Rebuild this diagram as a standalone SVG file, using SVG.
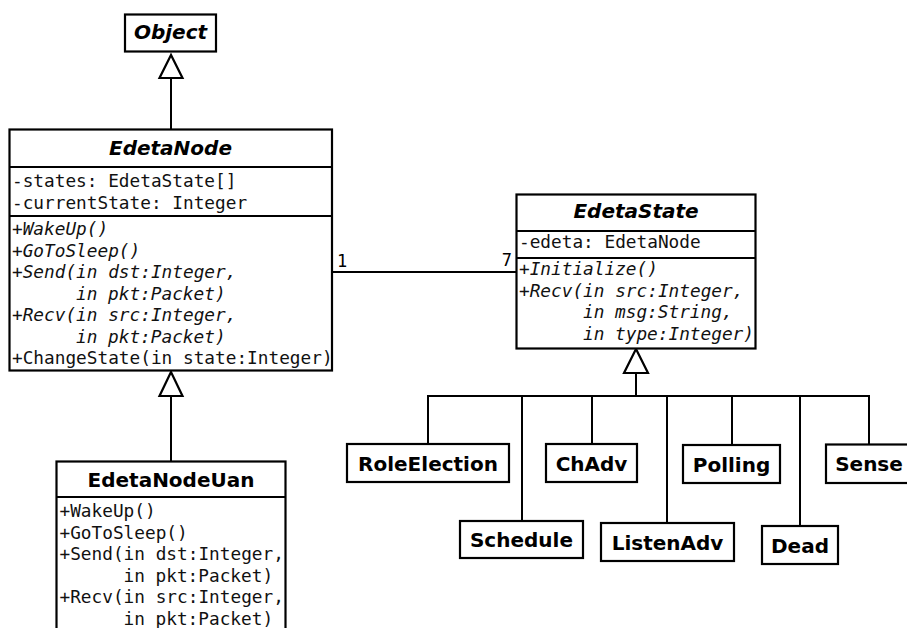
<svg xmlns="http://www.w3.org/2000/svg" width="907" height="628" viewBox="0 0 907 628">
<style>
.box{fill:#fff;stroke:#000;stroke-width:2.2}
.sep{stroke:#000;stroke-width:2.2}
.title{font-family:"DejaVu Sans","Liberation Sans",sans-serif;font-size:20px;font-weight:bold;fill:#000;text-anchor:middle}
.it{font-style:italic}
.mem{font-family:"DejaVu Sans Mono","Liberation Mono",monospace;font-size:17.75px;fill:#111}
.mul{font-family:"DejaVu Sans Mono","Liberation Mono",monospace;font-size:17px;fill:#000}
.leaf{font-family:"DejaVu Sans","Liberation Sans",sans-serif;font-size:20px;font-weight:bold;fill:#000;text-anchor:middle}
.ln{fill:none;stroke:#000;stroke-width:2}
.tri{fill:#fff;stroke:#000;stroke-width:2.2;stroke-linejoin:miter}
</style>
<rect width="907" height="628" fill="#fff"/>
<g id="connectors">
<line class="ln" x1="171" y1="78" x2="171" y2="129"/>
<polygon class="tri" points="171,55 159.5,78 182.5,78"/>
<line class="ln" x1="171" y1="396" x2="171" y2="461"/>
<polygon class="tri" points="171,372 159.5,396 182.5,396"/>
<line class="ln" x1="332" y1="272" x2="516" y2="272"/>
<text class="mul" x="337" y="267">1</text>
<text class="mul" x="512" y="266" text-anchor="end">7</text>
<line class="ln" x1="636" y1="373" x2="636" y2="396"/>
<polygon class="tri" points="636,349 624,373 648,373"/>
<polyline class="ln" points="428,444 428,396 869,396 869,444"/>
<line class="ln" x1="522" y1="396" x2="522" y2="521"/>
<line class="ln" x1="592" y1="396" x2="592" y2="444"/>
<line class="ln" x1="667" y1="396" x2="667" y2="523"/>
<line class="ln" x1="732" y1="396" x2="732" y2="445"/>
<line class="ln" x1="800" y1="396" x2="800" y2="526"/>
</g>
<g id="Object">
<rect class="box" x="125" y="14.5" width="91" height="37"/>
<text class="title it" x="170.5" y="39">Object</text>
</g>
<g id="EdetaNode">
<rect class="box" x="9.5" y="129.5" width="322.5" height="241"/>
<line class="sep" x1="9.5" y1="167" x2="332" y2="167"/>
<line class="sep" x1="9.5" y1="216" x2="332" y2="216"/>
<text class="title it" x="170.5" y="155">EdetaNode</text>
<text class="mem" x="12" y="187">-states: EdetaState[]</text>
<text class="mem" x="12" y="208.5">-currentState: Integer</text>
<text class="mem it" x="12" y="235">+WakeUp()</text>
<text class="mem it" x="12" y="256.5">+GoToSleep()</text>
<text class="mem it" x="12" y="278">+Send(in dst:Integer,</text>
<text class="mem it" x="76" y="299.5">in pkt:Packet)</text>
<text class="mem it" x="12" y="321">+Recv(in src:Integer,</text>
<text class="mem it" x="76" y="342.5">in pkt:Packet)</text>
<text class="mem" x="12" y="364">+ChangeState(in state:Integer)</text>
</g>
<g id="EdetaNodeUan">
<rect class="box" x="56.5" y="461.5" width="229" height="190"/>
<line class="sep" x1="56.5" y1="497" x2="285.5" y2="497"/>
<text class="title" x="171" y="487">EdetaNodeUan</text>
<text class="mem" x="59.5" y="517">+WakeUp()</text>
<text class="mem" x="59.5" y="538.5">+GoToSleep()</text>
<text class="mem" x="59.5" y="560">+Send(in dst:Integer,</text>
<text class="mem" x="123.5" y="581.5">in pkt:Packet)</text>
<text class="mem" x="59.5" y="603">+Recv(in src:Integer,</text>
<text class="mem" x="123.5" y="624.5">in pkt:Packet)</text>
</g>
<g id="EdetaState">
<rect class="box" x="516.5" y="194.5" width="239" height="154"/>
<line class="sep" x1="516.5" y1="231" x2="755.5" y2="231"/>
<line class="sep" x1="516.5" y1="258" x2="755.5" y2="258"/>
<text class="title it" x="636" y="218">EdetaState</text>
<text class="mem" x="519" y="248">-edeta: EdetaNode</text>
<text class="mem it" x="519" y="275">+Initialize()</text>
<text class="mem it" x="519" y="296.5">+Recv(in src:Integer,</text>
<text class="mem it" x="583" y="318">in msg:String,</text>
<text class="mem it" x="583" y="339.5">in type:Integer)</text>
</g>
<g id="RoleElection">
<rect class="box" x="347" y="444" width="162" height="38"/>
<text class="leaf" x="428" y="470.5">RoleElection</text>
</g>
<g id="Schedule">
<rect class="box" x="460" y="521" width="123" height="37"/>
<text class="leaf" x="521.5" y="547">Schedule</text>
</g>
<g id="ChAdv">
<rect class="box" x="546" y="444" width="91" height="38"/>
<text class="leaf" x="591.5" y="470.5">ChAdv</text>
</g>
<g id="ListenAdv">
<rect class="box" x="601" y="523" width="133" height="38"/>
<text class="leaf" x="667.5" y="549.5">ListenAdv</text>
</g>
<g id="Polling">
<rect class="box" x="683" y="445" width="97" height="38"/>
<text class="leaf" x="731.5" y="471.5">Polling</text>
</g>
<g id="Dead">
<rect class="box" x="762" y="526" width="76" height="38"/>
<text class="leaf" x="800" y="552.5">Dead</text>
</g>
<g id="Sense">
<rect class="box" x="826" y="444.5" width="86" height="38.5"/>
<text class="leaf" x="869" y="471">Sense</text>
</g>
</svg>
